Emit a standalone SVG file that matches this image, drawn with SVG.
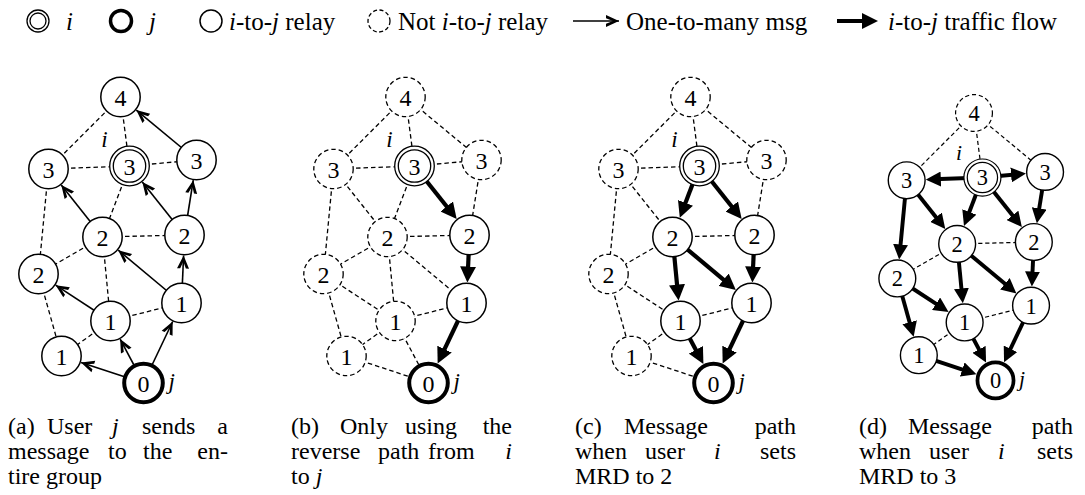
<svg xmlns="http://www.w3.org/2000/svg" width="1085" height="495" viewBox="0 0 1085 495" font-family="'Liberation Serif', 'Times New Roman', serif">
<defs>
<style>
text{font-family:'Liberation Serif','Times New Roman',serif;fill:#000}
.it{font-style:italic}
.lg{font-size:25px}
.cap{font-size:24px}
.num{font-size:24px;text-anchor:middle}
.lbl{font-size:23px;font-style:italic}
.nd{fill:#fff;stroke:#000;stroke-width:1.5}
.dn{fill:#fff;stroke:#000;stroke-width:1.3;stroke-dasharray:4.5 3}
.tk{fill:#fff;stroke:#000;stroke-width:4}
.db{fill:#fff;stroke:#000;stroke-width:1.3}
.e{fill:none;stroke:#000;stroke-width:1.3;stroke-dasharray:4.5 3}
.a{fill:none;stroke:#000;stroke-width:1.6;marker-end:url(#ah)}
.f{fill:none;stroke:#000;stroke-width:4.2;marker-end:url(#fh)}
</style>
<marker id="ah" markerUnits="userSpaceOnUse" markerWidth="16" markerHeight="14" refX="13" refY="6" orient="auto" overflow="visible">
<path d="M0,0 L13,6 L0,12 L0,8.8 L7,6 L0,3.2 Z" fill="#000"/>
</marker>
<marker id="fh" markerUnits="userSpaceOnUse" markerWidth="16" markerHeight="16" refX="8" refY="8" orient="auto">
<path d="M0,0 L16,8 L0,16 Z" fill="#000"/>
</marker>
</defs>
<rect width="1085" height="495" fill="#fff"/>

<g id="legend">
<g id="leg-i"><circle cx="38" cy="21" r="11" class="db"/><circle cx="38" cy="21" r="8" class="db"/><text x="66" y="30" class="lg it">i</text></g>
<g id="leg-j"><circle cx="121" cy="21" r="10.5" class="tk" style="stroke-width:3.5"/><text x="149" y="30" class="lg it">j</text></g>
<g id="leg-relay"><circle cx="211" cy="21" r="11" class="nd"/><text x="229" y="30" class="lg"><tspan class="it">i</tspan>-to-<tspan class="it">j</tspan> relay</text></g>
<g id="leg-notrelay"><circle cx="379" cy="21" r="11" class="dn" style="stroke-dasharray:4 2.5"/><text x="398" y="30" class="lg">Not <tspan class="it">i</tspan>-to-<tspan class="it">j</tspan> relay</text></g>
<g id="leg-msg"><path d="M573,21 L619,21" class="a"/><text x="626" y="30" class="lg">One-to-many msg</text></g>
<g id="leg-flow"><path d="M837,21 L870,21" class="f"/><text x="888" y="30" class="lg"><tspan class="it">i</tspan>-to-<tspan class="it">j</tspan> traffic flow</text></g>
</g>

<!-- Panel (a) -->
<g id="panel-a" transform="translate(120.5,97)">
<g id="a-connectors">
<path class="e" d="M0,0 L-72,72"/><path class="e" d="M0,0 L9,69"/><path class="e" d="M-72,72 L9,69"/><path class="e" d="M9,69 L76,63"/>
<path class="e" d="M-72,72 L-82,177"/><path class="e" d="M9,69 L-18,140"/><path class="e" d="M-18,140 L64,138"/><path class="e" d="M-18,140 L-82,177"/>
<path class="e" d="M-18,140 L-10,224"/><path class="e" d="M-82,177 L-59,259"/><path class="e" d="M-10,224 L61,206"/><path class="e" d="M-10,224 L-59,259"/>
<path class="a" d="M76,63 L15.8,13.1"/><path class="a" d="M-18,140 L-59.25,88.05"/><path class="a" d="M64,138 L21.8,85"/><path class="a" d="M64,138 L72.76,83.24"/>
<path class="a" d="M61,206 L-2.26,153.15"/><path class="a" d="M61,206 L63.1,158.5"/><path class="a" d="M-10,224 L-64.84,188.2"/>
<path class="a" d="M23,286 L-0.36,242.1"/><path class="a" d="M23,286 L-39.5,265.4"/><path class="a" d="M23,286 L52.2,224.5"/>
</g>
<g id="a-n4"><circle cx="0" cy="0" r="19.7" class="nd"/><text x="0" y="8.5" class="num">4</text></g>
<g id="a-n3L"><circle cx="-72" cy="72" r="19.7" class="nd"/><text x="-72" y="80.5" class="num">3</text></g>
<g id="a-n3i"><circle cx="9" cy="69" r="19.8" class="db"/><circle cx="9" cy="69" r="16.2" class="db"/><text x="9" y="77.5" class="num">3</text><text x="-16" y="50" class="lbl" text-anchor="middle">i</text></g>
<g id="a-n3R"><circle cx="76" cy="63" r="19.7" class="nd"/><text x="76" y="71.5" class="num">3</text></g>
<g id="a-n2M"><circle cx="-18" cy="140" r="19.7" class="nd"/><text x="-18" y="148.5" class="num">2</text></g>
<g id="a-n2R"><circle cx="64" cy="138" r="19.7" class="nd"/><text x="64" y="146.5" class="num">2</text></g>
<g id="a-n2L"><circle cx="-82" cy="177" r="19.7" class="nd"/><text x="-82" y="185.5" class="num">2</text></g>
<g id="a-n1M"><circle cx="-10" cy="224" r="19.7" class="nd"/><text x="-10" y="232.5" class="num">1</text></g>
<g id="a-n1R"><circle cx="61" cy="206" r="19.7" class="nd"/><text x="61" y="214.5" class="num">1</text></g>
<g id="a-n1L"><circle cx="-59" cy="259" r="19.7" class="nd"/><text x="-59" y="267.5" class="num">1</text></g>
<g id="a-n0"><circle cx="23" cy="286" r="19.3" class="tk"/><text x="23" y="294.5" class="num">0</text><text x="48" y="292" class="lbl">j</text></g>
</g>

<!-- Panel (b) -->
<g id="panel-b" transform="translate(405.5,97)">
<g id="b-connectors">
<path class="e" d="M0,0 L-72,72"/><path class="e" d="M0,0 L9,69"/><path class="e" d="M0,0 L76,63"/><path class="e" d="M-72,72 L9,69"/><path class="e" d="M9,69 L76,63"/>
<path class="e" d="M-72,72 L-18,140"/><path class="e" d="M-72,72 L-82,177"/><path class="e" d="M9,69 L-18,140"/><path class="e" d="M76,63 L64,138"/>
<path class="e" d="M-18,140 L64,138"/><path class="e" d="M-18,140 L-82,177"/><path class="e" d="M-18,140 L-10,224"/><path class="e" d="M-18,140 L61,206"/>
<path class="e" d="M-82,177 L-10,224"/><path class="e" d="M-82,177 L-59,259"/><path class="e" d="M-10,224 L61,206"/><path class="e" d="M-10,224 L-59,259"/>
<path class="e" d="M-10,224 L23,286"/><path class="e" d="M-59,259 L23,286"/>
<path class="f" d="M9,69 L46.2,115.7"/><path class="f" d="M64,138 L62.25,177.5"/><path class="f" d="M61,206 L35.6,259.4"/>
</g>
<g id="b-n4"><circle cx="0" cy="0" r="19.7" class="dn"/><text x="0" y="8.5" class="num">4</text></g>
<g id="b-n3L"><circle cx="-72" cy="72" r="19.7" class="dn"/><text x="-72" y="80.5" class="num">3</text></g>
<g id="b-n3i"><circle cx="9" cy="69" r="19.8" class="db"/><circle cx="9" cy="69" r="16.2" class="db"/><text x="9" y="77.5" class="num">3</text><text x="-16" y="50" class="lbl" text-anchor="middle">i</text></g>
<g id="b-n3R"><circle cx="76" cy="63" r="19.7" class="dn"/><text x="76" y="71.5" class="num">3</text></g>
<g id="b-n2M"><circle cx="-18" cy="140" r="19.7" class="dn"/><text x="-18" y="148.5" class="num">2</text></g>
<g id="b-n2R"><circle cx="64" cy="138" r="19.7" class="nd"/><text x="64" y="146.5" class="num">2</text></g>
<g id="b-n2L"><circle cx="-82" cy="177" r="19.7" class="dn"/><text x="-82" y="185.5" class="num">2</text></g>
<g id="b-n1M"><circle cx="-10" cy="224" r="19.7" class="dn"/><text x="-10" y="232.5" class="num">1</text></g>
<g id="b-n1R"><circle cx="61" cy="206" r="19.7" class="nd"/><text x="61" y="214.5" class="num">1</text></g>
<g id="b-n1L"><circle cx="-59" cy="259" r="19.7" class="dn"/><text x="-59" y="267.5" class="num">1</text></g>
<g id="b-n0"><circle cx="23" cy="286" r="19.3" class="tk"/><text x="23" y="294.5" class="num">0</text><text x="48" y="292" class="lbl">j</text></g>
</g>

<!-- Panel (c) -->
<g id="panel-c" transform="translate(690.5,97)">
<g id="c-connectors">
<path class="e" d="M0,0 L-72,72"/><path class="e" d="M0,0 L9,69"/><path class="e" d="M0,0 L76,63"/><path class="e" d="M-72,72 L9,69"/><path class="e" d="M9,69 L76,63"/>
<path class="e" d="M-72,72 L-18,140"/><path class="e" d="M-72,72 L-82,177"/><path class="e" d="M76,63 L64,138"/>
<path class="e" d="M-18,140 L64,138"/><path class="e" d="M-18,140 L-82,177"/>
<path class="e" d="M-82,177 L-10,224"/><path class="e" d="M-82,177 L-59,259"/><path class="e" d="M-10,224 L61,206"/><path class="e" d="M-10,224 L-59,259"/>
<path class="e" d="M-59,259 L23,286"/>
<path class="f" d="M9,69 L-7.86,113.3"/><path class="f" d="M9,69 L46.2,115.7"/><path class="f" d="M-18,140 L-12.7,195.6"/><path class="f" d="M-18,140 L39.2,187.8"/>
<path class="f" d="M64,138 L62.25,177.5"/><path class="f" d="M-10,224 L9.14,259.9"/><path class="f" d="M61,206 L35.6,259.4"/>
</g>
<g id="c-n4"><circle cx="0" cy="0" r="19.7" class="dn"/><text x="0" y="8.5" class="num">4</text></g>
<g id="c-n3L"><circle cx="-72" cy="72" r="19.7" class="dn"/><text x="-72" y="80.5" class="num">3</text></g>
<g id="c-n3i"><circle cx="9" cy="69" r="19.8" class="db"/><circle cx="9" cy="69" r="16.2" class="db"/><text x="9" y="77.5" class="num">3</text><text x="-16" y="50" class="lbl" text-anchor="middle">i</text></g>
<g id="c-n3R"><circle cx="76" cy="63" r="19.7" class="dn"/><text x="76" y="71.5" class="num">3</text></g>
<g id="c-n2M"><circle cx="-18" cy="140" r="19.7" class="nd"/><text x="-18" y="148.5" class="num">2</text></g>
<g id="c-n2R"><circle cx="64" cy="138" r="19.7" class="nd"/><text x="64" y="146.5" class="num">2</text></g>
<g id="c-n2L"><circle cx="-82" cy="177" r="19.7" class="dn"/><text x="-82" y="185.5" class="num">2</text></g>
<g id="c-n1M"><circle cx="-10" cy="224" r="19.7" class="nd"/><text x="-10" y="232.5" class="num">1</text></g>
<g id="c-n1R"><circle cx="61" cy="206" r="19.7" class="nd"/><text x="61" y="214.5" class="num">1</text></g>
<g id="c-n1L"><circle cx="-59" cy="259" r="19.7" class="dn"/><text x="-59" y="267.5" class="num">1</text></g>
<g id="c-n0"><circle cx="23" cy="286" r="19.3" class="tk"/><text x="23" y="294.5" class="num">0</text><text x="48" y="292" class="lbl">j</text></g>
</g>

<!-- Panel (d) -->
<g id="panel-d" transform="translate(974,113) scale(0.935)">
<g id="d-connectors">
<path class="e" d="M0,0 L-72,72"/><path class="e" d="M0,0 L9,69"/><path class="e" d="M0,0 L76,63"/>
<path class="e" d="M-18,140 L64,138"/><path class="e" d="M-18,140 L-82,177"/><path class="e" d="M-10,224 L61,206"/><path class="e" d="M-10,224 L-59,259"/>
<path class="f" d="M9,69 L-43.5,70.9"/><path class="f" d="M9,69 L47.6,65.5"/><path class="f" d="M9,69 L-7.86,113.3"/><path class="f" d="M9,69 L46.2,115.7"/>
<path class="f" d="M-72,72 L-35.7,117.7"/><path class="f" d="M-72,72 L-79.3,148.6"/><path class="f" d="M76,63 L68.5,109.9"/>
<path class="f" d="M-18,140 L-12.7,195.6"/><path class="f" d="M-18,140 L39.2,187.8"/><path class="f" d="M64,138 L62.25,177.5"/>
<path class="f" d="M-82,177 L-33.9,208.4"/><path class="f" d="M-82,177 L-66.7,231.6"/>
<path class="f" d="M-10,224 L9.14,259.9"/><path class="f" d="M61,206 L35.6,259.4"/><path class="f" d="M-59,259 L-5,276.8"/>
</g>
<g id="d-n4"><circle cx="0" cy="0" r="19.7" class="dn"/><text x="0" y="8.5" class="num">4</text></g>
<g id="d-n3L"><circle cx="-72" cy="72" r="19.7" class="nd"/><text x="-72" y="80.5" class="num">3</text></g>
<g id="d-n3i"><circle cx="9" cy="69" r="19.8" class="db"/><circle cx="9" cy="69" r="16.2" class="db"/><text x="9" y="77.5" class="num">3</text><text x="-16" y="50" class="lbl" text-anchor="middle">i</text></g>
<g id="d-n3R"><circle cx="76" cy="63" r="19.7" class="nd"/><text x="76" y="71.5" class="num">3</text></g>
<g id="d-n2M"><circle cx="-18" cy="140" r="19.7" class="nd"/><text x="-18" y="148.5" class="num">2</text></g>
<g id="d-n2R"><circle cx="64" cy="138" r="19.7" class="nd"/><text x="64" y="146.5" class="num">2</text></g>
<g id="d-n2L"><circle cx="-82" cy="177" r="19.7" class="nd"/><text x="-82" y="185.5" class="num">2</text></g>
<g id="d-n1M"><circle cx="-10" cy="224" r="19.7" class="nd"/><text x="-10" y="232.5" class="num">1</text></g>
<g id="d-n1R"><circle cx="61" cy="206" r="19.7" class="nd"/><text x="61" y="214.5" class="num">1</text></g>
<g id="d-n1L"><circle cx="-59" cy="259" r="19.7" class="nd"/><text x="-59" y="267.5" class="num">1</text></g>
<g id="d-n0"><circle cx="23" cy="286" r="19.3" class="tk"/><text x="23" y="294.5" class="num">0</text><text x="48" y="292" class="lbl">j</text></g>
</g>

<!-- Captions -->
<g id="captions">
<text y="434" class="cap"><tspan x="8">(a)</tspan><tspan x="47">User</tspan><tspan x="112" class="it">j</tspan><tspan x="142">sends</tspan><tspan x="228" text-anchor="end">a</tspan></text>
<text y="459" class="cap"><tspan x="8">message</tspan><tspan x="108">to</tspan><tspan x="143">the</tspan><tspan x="228" text-anchor="end">en-</tspan></text>
<text x="8" y="484" class="cap">tire group</text>

<text y="434" class="cap"><tspan x="291">(b)</tspan><tspan x="340">Only</tspan><tspan x="405">using</tspan><tspan x="512" text-anchor="end">the</tspan></text>
<text y="459" class="cap"><tspan x="291">reverse</tspan><tspan x="378">path</tspan><tspan x="428">from</tspan><tspan x="512" text-anchor="end" class="it">i</tspan></text>
<text x="291" y="484" class="cap">to <tspan class="it">j</tspan></text>

<text y="434" class="cap"><tspan x="575">(c)</tspan><tspan x="624">Message</tspan><tspan x="796" text-anchor="end">path</tspan></text>
<text y="459" class="cap"><tspan x="575">when</tspan><tspan x="645">user</tspan><tspan x="714" class="it">i</tspan><tspan x="796" text-anchor="end">sets</tspan></text>
<text x="575" y="484" class="cap">MRD to 2</text>

<text y="434" class="cap"><tspan x="859">(d)</tspan><tspan x="908">Message</tspan><tspan x="1073" text-anchor="end">path</tspan></text>
<text y="459" class="cap"><tspan x="859">when</tspan><tspan x="929">user</tspan><tspan x="998" class="it">i</tspan><tspan x="1073" text-anchor="end">sets</tspan></text>
<text x="859" y="484" class="cap">MRD to 3</text>
</g>
</svg>
